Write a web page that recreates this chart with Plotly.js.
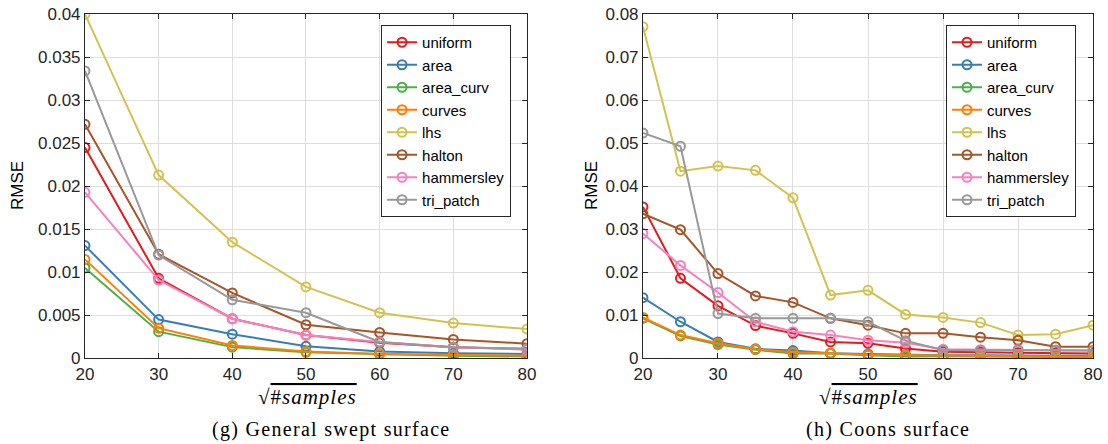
<!DOCTYPE html>
<html>
<head>
<meta charset="utf-8">
<script src="https://cdn.plot.ly/plotly-3.0.1.min.js"></script>
<style>
  html, body { margin: 0; padding: 0; background: #ffffff; }
  #chart { width: 1108px; height: 444px; }
</style>
</head>
<body>
<div id="chart"></div>
<script>
// ---- data ----
const methods = ["uniform", "area", "area_curv", "curves", "lhs", "halton", "hammersley", "tri_patch"];
const colors  = ["#e41a1c", "#377eb8", "#4daf4a", "#ff7f00", "#d4c24e", "#a65628", "#f781bf", "#999999"];

// (g) General swept surface
const xSwept = [20, 30, 40, 50, 60, 70, 80];
const sweptUniform    = [0.0245, 0.0093, 0.0046, 0.0027, 0.0018, 0.0013, 0.0011];
const sweptArea       = [0.0131, 0.0045, 0.0028, 0.0014, 0.0008, 0.0006, 0.0005];
const sweptAreaCurv   = [0.0105, 0.0031, 0.0013, 0.0007, 0.0005, 0.0003, 0.0002];
const sweptCurves     = [0.0115, 0.0035, 0.0015, 0.0008, 0.0005, 0.0004, 0.0003];
const sweptLhs        = [0.0400, 0.0213, 0.0135, 0.0083, 0.0053, 0.0041, 0.0034];
const sweptHalton     = [0.0272, 0.0121, 0.0076, 0.0039, 0.0030, 0.0022, 0.0017];
const sweptHammersley = [0.0193, 0.0091, 0.0046, 0.0027, 0.0019, 0.0013, 0.0010];
const sweptTriPatch   = [0.0334, 0.0120, 0.0068, 0.0053, 0.0019, 0.0013, 0.0011];

// (h) Coons surface
const xCoons = [20, 25, 30, 35, 40, 45, 50, 55, 60, 65, 70, 75, 80];
const coonsUniform    = [0.0352, 0.0186, 0.0122, 0.0076, 0.0058, 0.0038, 0.0035, 0.0023, 0.0015, 0.0014, 0.0013, 0.0012, 0.0011];
const coonsArea       = [0.0141, 0.0085, 0.0038, 0.0022, 0.0018, 0.0012, 0.0010, 0.0008, 0.0007, 0.0007, 0.0006, 0.0006, 0.0006];
const coonsAreaCurv   = [0.0093, 0.0052, 0.0032, 0.0020, 0.0011, 0.0011, 0.0007, 0.0004, 0.0005, 0.0004, 0.0004, 0.0003, 0.0003];
const coonsCurves     = [0.0095, 0.0054, 0.0035, 0.0021, 0.0014, 0.0012, 0.0008, 0.0007, 0.0006, 0.0005, 0.0005, 0.0004, 0.0004];
const coonsLhs        = [0.0771, 0.0435, 0.0447, 0.0437, 0.0373, 0.0147, 0.0158, 0.0102, 0.0095, 0.0083, 0.0054, 0.0056, 0.0077];
const coonsHalton     = [0.0336, 0.0299, 0.0197, 0.0145, 0.0130, 0.0093, 0.0077, 0.0058, 0.0058, 0.0049, 0.0042, 0.0027, 0.0027];
const coonsHammersley = [0.0290, 0.0216, 0.0153, 0.0085, 0.0062, 0.0054, 0.0042, 0.0036, 0.0021, 0.0020, 0.0020, 0.0019, 0.0018];
const coonsTriPatch   = [0.0524, 0.0493, 0.0104, 0.0093, 0.0093, 0.0093, 0.0085, 0.0041, 0.0019, 0.0019, 0.0019, 0.0019, 0.0018];

const yTicksSwept = [0, 0.005, 0.01, 0.015, 0.02, 0.025, 0.03, 0.035, 0.04];
const yTicksCoons = [0, 0.01, 0.02, 0.03, 0.04, 0.05, 0.06, 0.07, 0.08];
const xTicks = [20, 30, 40, 50, 60, 70, 80];

const sweptSeries = [sweptUniform, sweptArea, sweptAreaCurv, sweptCurves, sweptLhs, sweptHalton, sweptHammersley, sweptTriPatch];
const coonsSeries = [coonsUniform, coonsArea, coonsAreaCurv, coonsCurves, coonsLhs, coonsHalton, coonsHammersley, coonsTriPatch];

// ---- traces ----
const traces = [];
function addTraces(xs, series, xa, ya, legendId) {
  series.forEach((ys, i) => {
    traces.push({
      type: "scatter", mode: "lines+markers",
      x: xs, y: ys, name: methods[i],
      xaxis: xa, yaxis: ya, legend: legendId,
      line: { color: colors[i], width: 2 },
      marker: { symbol: "circle-open", size: 9, color: colors[i], line: { width: 2, color: colors[i] } }
    });
  });
}
addTraces(xSwept, sweptSeries, "x", "y", "legend");
addTraces(xCoons, coonsSeries, "x2", "y2", "legend2");

const sansFont = "Liberation Sans, Arial, sans-serif";
const serifFont = "Liberation Serif, serif";

const axisCommon = {
  showline: true, linecolor: "#262626", linewidth: 1, mirror: "ticks",
  ticks: "inside", ticklen: 5, tickwidth: 1, tickcolor: "#262626",
  showgrid: true, gridcolor: "#dedede", gridwidth: 1,
  zeroline: false,
  tickfont: { family: sansFont, size: 17, color: "#262626" }
};

const legendCommon = {
  bgcolor: "#ffffff", bordercolor: "#262626", borderwidth: 1,
  font: { family: sansFont, size: 15, color: "#000000" },
  xanchor: "left", yanchor: "top", tracegroupgap: 0, itemwidth: 30
};

const xTitle = "<span style='letter-spacing:1px'>√<span style='text-decoration:overline'>#<i>samples</i></span></span>";
function caption(t) { return "<span style='letter-spacing:1.3px'>" + t + "</span>"; }

const yDom = [0.193, 0.968];
const layout = {
  width: 1108, height: 444,
  margin: { l: 0, r: 0, t: 0, b: 0 },
  paper_bgcolor: "#ffffff", plot_bgcolor: "#ffffff",
  showlegend: true,
  xaxis:  Object.assign({}, axisCommon, { domain: [0.0767, 0.4756], range: [20, 80], tickvals: xTicks, anchor: "y" }),
  yaxis:  Object.assign({}, axisCommon, { domain: yDom, range: [0, 0.04], tickvals: yTicksSwept, anchor: "x" }),
  xaxis2: Object.assign({}, axisCommon, { domain: [0.5803, 0.9865], range: [20, 80], tickvals: xTicks, anchor: "y2" }),
  yaxis2: Object.assign({}, axisCommon, { domain: yDom, range: [0, 0.08], tickvals: yTicksCoons, anchor: "x2" }),
  legend:  Object.assign({}, legendCommon, { x: 0.3439, y: 0.9437 }),
  legend2: Object.assign({}, legendCommon, { x: 0.8538, y: 0.9437 }),
  annotations: [
    { text: "RMSE", xref: "paper", yref: "paper", x: 18 / 1108, y: 1 - 186 / 444, textangle: -90,
      xanchor: "center", yanchor: "middle",
      showarrow: false, font: { family: sansFont, size: 17, color: "#000" } },
    { text: "RMSE", xref: "paper", yref: "paper", x: 592 / 1108, y: 1 - 186 / 444, textangle: -90,
      xanchor: "center", yanchor: "middle",
      showarrow: false, font: { family: sansFont, size: 17, color: "#000" } },
    { text: xTitle, xref: "paper", yref: "paper",
      x: 307 / 1108, y: 1 - 397 / 444, xanchor: "center", yanchor: "middle", showarrow: false,
      font: { family: serifFont, size: 21, color: "#000" } },
    { text: xTitle, xref: "paper", yref: "paper",
      x: 868 / 1108, y: 1 - 397 / 444, xanchor: "center", yanchor: "middle", showarrow: false,
      font: { family: serifFont, size: 21, color: "#000" } },
    { text: caption("(g) General swept surface"), xref: "paper", yref: "paper",
      x: 331 / 1108, y: 1 - 429 / 444, xanchor: "center", yanchor: "middle", showarrow: false,
      font: { family: serifFont, size: 20, color: "#000" } },
    { text: caption("(h) Coons surface"), xref: "paper", yref: "paper",
      x: 888 / 1108, y: 1 - 429 / 444, xanchor: "center", yanchor: "middle", showarrow: false,
      font: { family: serifFont, size: 20, color: "#000" } }
  ]
};

Plotly.newPlot("chart", traces, layout, { staticPlot: true, displayModeBar: false });
</script>
</body>
</html>
